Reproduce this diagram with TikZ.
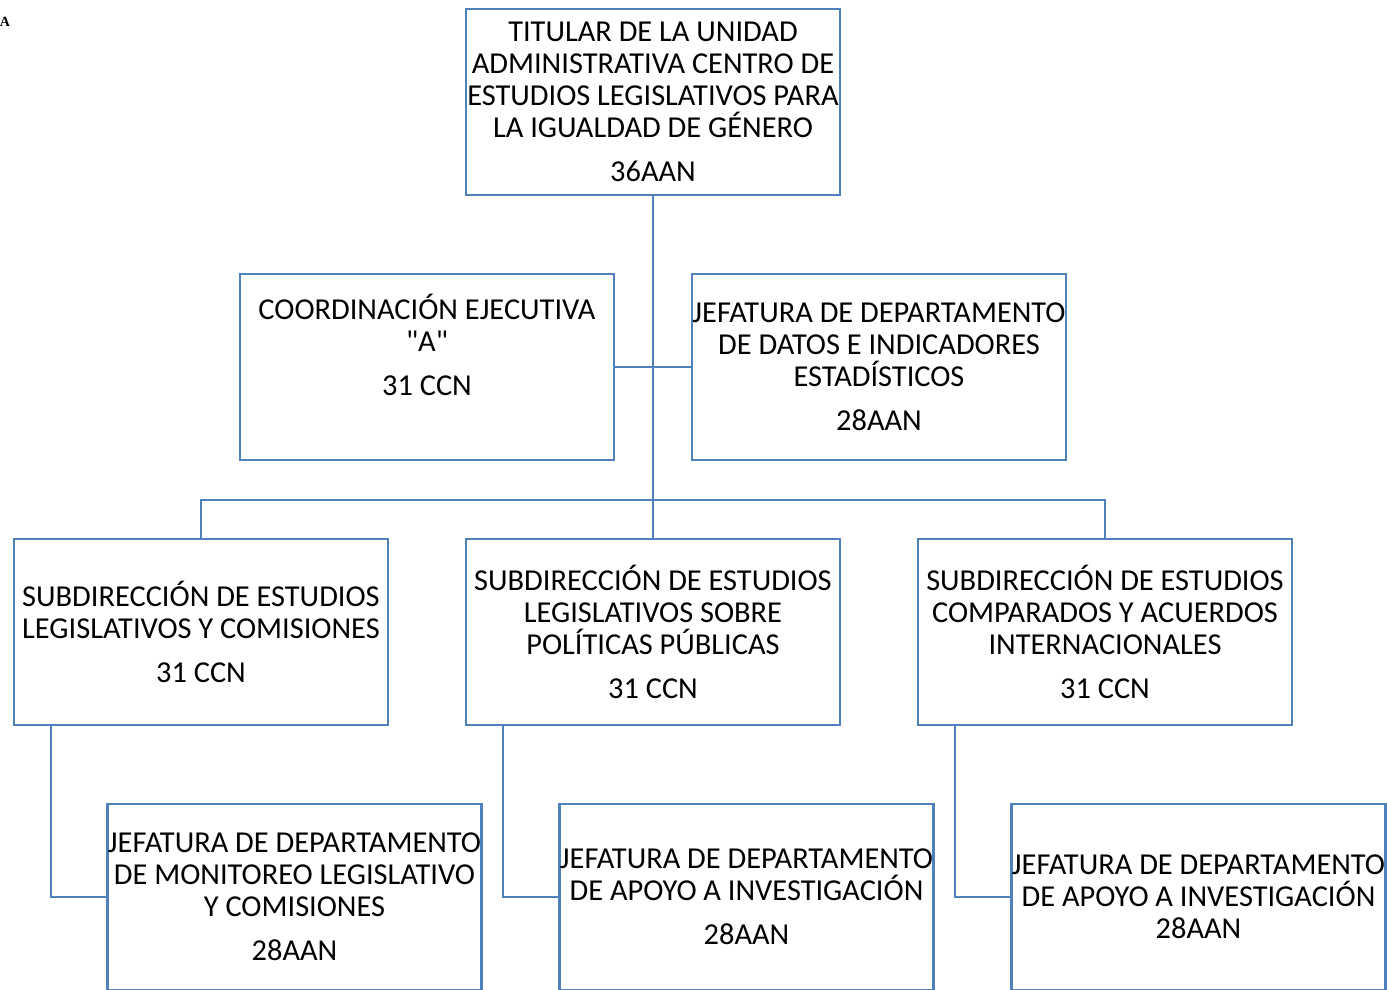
\documentclass[tikz,border=0pt]{standalone}
\usepackage{fontspec}
\setmainfont{Carlito}[Ligatures=TeXOff]
\newfontfamily\marcafont{Liberation Serif}
\definecolor{linea}{RGB}{79,129,189}
\tikzset{
	caja/.style={draw=linea,line width=1.4pt,minimum width=7.48cm,minimum height=3.72cm,
		inner sep=0pt,align=center,font=\fontsize{17.3}{18.1}\selectfont},
	enlace/.style={draw=linea,line width=1.4pt}
}
\begin{document}
\begin{tikzpicture}[x=0.02cm,y=-0.02cm]
		\clip (0,0) rectangle (1387,990);
		\node[font=\marcafont\fontsize{8}{9}\selectfont\bfseries] (marca) at (5,22) {A};
		\node[caja] (tit) at (653,102) {TITULAR DE LA UNIDAD\\ADMINISTRATIVA CENTRO DE\\ESTUDIOS LEGISLATIVOS PARA\\LA IGUALDAD DE GÉNERO\\[7pt]36AAN};
		\node[caja] (coord) at (427,367) {COORDINACIÓN EJECUTIVA\\"A"\\[7pt]31 CCN\\[7pt]~};
		\node[caja] (datos) at (879,367) {JEFATURA DE DEPARTAMENTO\\DE DATOS E INDICADORES\\ESTADÍSTICOS\\[7pt]28AAN};
		\node[caja] (sub1) at (201,632) {SUBDIRECCIÓN DE ESTUDIOS\\LEGISLATIVOS Y COMISIONES\\[7pt]31 CCN};
		\node[caja] (sub2) at (653,632) {SUBDIRECCIÓN DE ESTUDIOS\\LEGISLATIVOS SOBRE\\POLÍTICAS PÚBLICAS\\[7pt]31 CCN};
		\node[caja] (sub3) at (1105,632) {SUBDIRECCIÓN DE ESTUDIOS\\COMPARADOS Y ACUERDOS\\INTERNACIONALES\\[7pt]31 CCN};
		\node[caja] (dep1) at (294.5,897) {JEFATURA DE DEPARTAMENTO\\DE MONITOREO LEGISLATIVO\\Y COMISIONES\\[7pt]28AAN};
		\node[caja] (dep2) at (746.5,897) {JEFATURA DE DEPARTAMENTO\\DE APOYO A INVESTIGACIÓN\\[7pt]28AAN};
		\node[caja] (dep3) at (1198.5,897) {JEFATURA DE DEPARTAMENTO\\DE APOYO A INVESTIGACIÓN\\28AAN};
		\coordinate (barra) at (653,500);
		\draw[enlace] (tit.south) -- (sub2.north);
		\draw[enlace] (coord.east) -- (datos.west);
		\draw[enlace] (sub1.north) |- (barra) -| (sub3.north);
		\draw[enlace] ([xshift=0.76cm]sub1.south west) |- (dep1.west);
		\draw[enlace] ([xshift=0.76cm]sub2.south west) |- (dep2.west);
		\draw[enlace] ([xshift=0.76cm]sub3.south west) |- (dep3.west);
	\end{tikzpicture}
\end{document}
